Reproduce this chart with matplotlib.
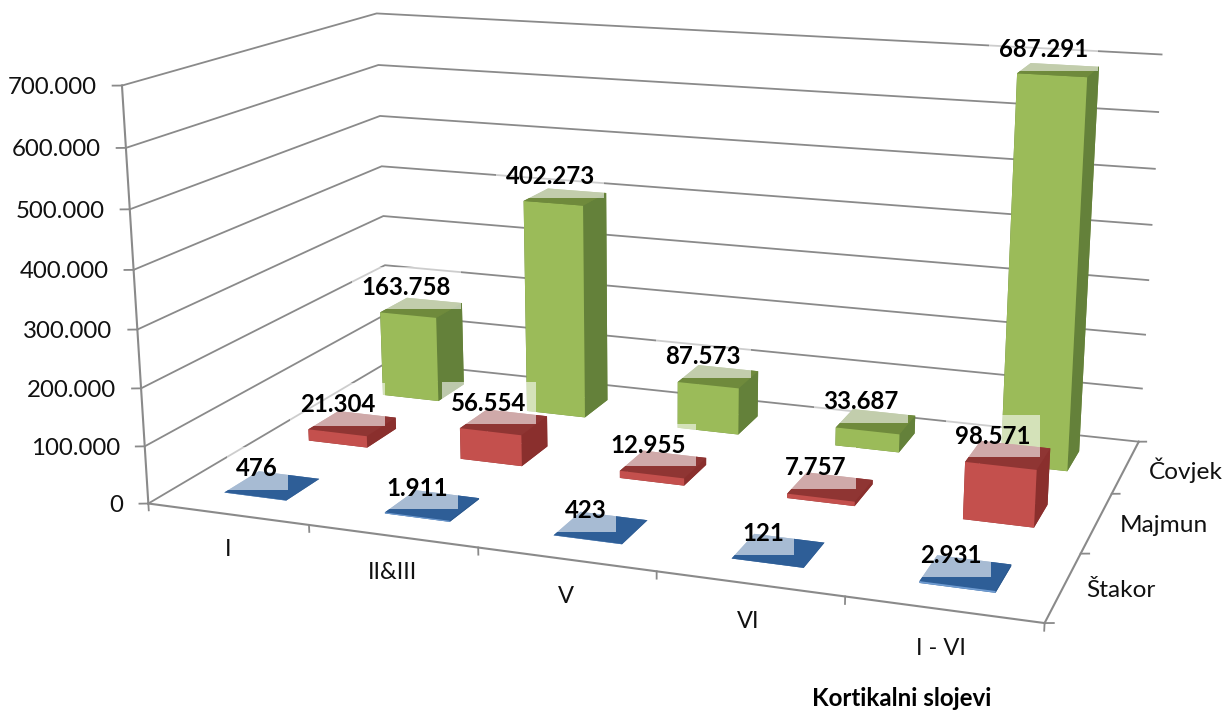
import numpy as np
import matplotlib
matplotlib.use("Agg")
import matplotlib.pyplot as plt
from matplotlib.transforms import offset_copy

plt.rcParams['font.family'] = ['Lato', 'DejaVu Sans']

kategorije = ["I", "II&III", "V", "VI", "I - VI"]
vrste = ["Štakor", "Majmun", "Čovjek"]
stakor = [476, 1911, 423, 121, 2931]
majmun = [21304, 56554, 12955, 7757, 98571]
covjek = [163758, 402273, 87573, 33687, 687291]
z_ticks = [0, 100000, 200000, 300000, 400000, 500000, 600000, 700000]
z_labels = ["0", "100.000", "200.000", "300.000", "400.000", "500.000", "600.000", "700.000"]

# boje: dno, vrh, sprijeda, iza, lijevo, desno
boje = [
    ["#2e5e97", "#2e5e97", "#6f9bd0", "#2e5e97", "#2e5e97", "#2a568a"],
    ["#8f3533", "#8f3533", "#c4504d", "#8f3533", "#8f3533", "#8a2f2d"],
    ["#6f8a3c", "#6f8a3c", "#9bbb59", "#6f8a3c", "#64813a", "#64813a"],
]
SIVA = "#8a8a8a"

# uglovi kutije (svijet -> pikseli iz slike), iz njih racunam projekciju
svijet = np.array([[0, 0, 0], [5, 0, 0], [5, 3, 0], [0, 3, 0],
                   [0, 0, 700000], [0, 3, 700000], [5, 3, 700000]], dtype=float)
pikseli = np.array([[146.5, 504], [1045, 622], [1138, 443], [390, 361],
                    [123.5, 86], [375, 13.5], [1162, 54]], dtype=float)


def racunaj_proj(svijet, pikseli):
    A = []
    s = svijet / [1, 1, 700000]
    for (x, y, z), (u, v) in zip(s, pikseli):
        A.append([x, y, z, 1, 0, 0, 0, 0, -u * x, -u * y, -u * z, -u])
        A.append([0, 0, 0, 0, x, y, z, 1, -v * x, -v * y, -v * z, -v])
    P = np.linalg.svd(np.array(A))[2][-1].reshape(3, 4)
    P[:, 2] /= 700000
    P = P / P[2, 3]
    if P[2, 3] < 0:
        P = -P
    # treci red daje dubinu za sortiranje ploha, cetvrti je homogeni
    dub = P[2].copy()
    dub[3] -= 0.5
    return np.array([P[0], P[1], dub, P[2]])


M = racunaj_proj(svijet, pikseli)


def natpis(x, y, z, tekst, dx=0, dy=0, **kw):
    # tekst ide na projiciranu tocku, s pomakom u pikselima
    v = M @ np.array([x, y, z, 1.0])
    ax.text2D(v[0] / v[3], v[1] / v[3], tekst, va="center",
              transform=offset_copy(ax.transData, fig, x=dx, y=dy, units="dots"), **kw)


fig = plt.figure(figsize=(12.24, 7.11), dpi=100, facecolor="white")
ax = fig.add_axes([0, (711 - 1224) / 2 / 711, 1, 1224 / 711], projection="3d")
ax.set_axis_off()
ax.set_proj_type("ortho")  # inace Line3D odsijece sve izvan [-1, 1]
ax.computed_zorder = False
ax.get_proj = lambda: M

# mreza na zidovima
for z, oznaka in zip(z_ticks, z_labels):
    ax.plot3D([0, 0, 5], [0, 3, 3], [z, z, z], color=SIVA, lw=1.3, zorder=1)
    ax.plot3D([0, -0.045], [0, -0.019], [z, z], color=SIVA, lw=1.3, zorder=1)
    natpis(0, 0, z, oznaka, dx=-25, dy=-2, ha="right", fontsize=17.3, color="#111111")

# osi
ax.plot3D([0, 0], [0, 0], [0, 700000], color=SIVA, lw=1.5, zorder=1)
ax.plot3D([0, 5], [0, 0], [0, 0], color=SIVA, lw=1.5, zorder=1)
ax.plot3D([5, 5], [0, 3], [0, 0], color=SIVA, lw=1.5, zorder=1)
for i in range(6):
    ax.plot3D([i, i], [0, 0], [0, -12000], color=SIVA, lw=1.3, zorder=1)
for j in range(4):
    ax.plot3D([5, 5.042], [j, j + 0.016], [0, 0], color=SIVA, lw=1.3, zorder=1)

for i, naziv in enumerate(kategorije):
    natpis(i + 0.5, 0, -62000, naziv, dx=-1, ha="center", fontsize=17, color="#111111")
for j, naziv in enumerate(vrste):
    natpis(5, j + 0.5, 0, naziv, dx=23, dy=-3, ha="left", fontsize=17.6, color="#111111")

# stupci
SIRINA = 0.39
pomak_y = [17, 19, 20]
for j, vrijednosti in enumerate([stakor, majmun, covjek]):
    for i, v in enumerate(vrijednosti):
        ax.bar3d(i + 0.5 - SIRINA / 2, j + 0.5 - SIRINA / 2, 0, SIRINA, SIRINA, v,
                 color=boje[j], shade=False, zorder=5 - j)
        natpis(i + 0.5, j + 0.5, v, f"{v:,}".replace(",", "."), dx=-15, dy=pomak_y[j],
               ha="center", fontsize=17.3, fontweight="bold", color="black", zorder=10,
               bbox=dict(boxstyle="square,pad=0.4", facecolor="white", edgecolor="none", alpha=0.58))

fig.text(901.5 / 1224, 1 - 698 / 711, "Kortikalni slojevi", ha="center", va="center",
         fontsize=17.4, fontweight="bold", color="black")

ax.viewLim.intervalx = (0, 1224)
ax.viewLim.intervaly = (967.5, -256.5)

fig.savefig("out.png", dpi=100)
